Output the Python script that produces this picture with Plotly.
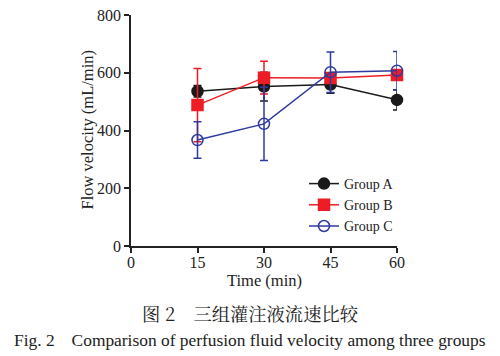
import plotly.graph_objects as go

time_min = [15, 30, 45, 60]
group_a = [536, 552, 559, 506]
group_a_err = [20, 50, 30, 35]
group_b = [488, 583, 582, 592]
group_b_err = [127, 57, 18, 18]
group_c = [367, 423, 602, 607]
group_c_err = [63, 127, 70, 67]

x_ticks = [0, 15, 30, 45, 60]
y_ticks = [0, 200, 400, 600, 800]

serif = "Liberation Serif, Times New Roman, serif"

series = [
    ("Group A", group_a, group_a_err, "#1a1a1a", "circle", "#1a1a1a"),
    ("Group B", group_b, group_b_err, "#ee1c25", "square", "#ee1c25"),
    ("Group C", group_c, group_c_err, "#2e3a9e", "circle-open", "#2e3a9e"),
]

fig = go.Figure()
for name, vals, errs, color, sym, mcol in series:
    fig.add_trace(go.Scatter(
        x=time_min, y=vals, name=name, mode="lines+markers",
        line=dict(color=color, width=1.5),
        marker=dict(symbol=sym, size=11, color=mcol,
                    line=dict(color=color, width=1.5)),
        error_y=dict(type="data", array=errs, visible=True,
                     color=color, thickness=1.5, width=4),
        cliponaxis=False,
    ))

# page body adds an 8px margin, so the figure is 492x348 placed at (8, 8)
W, H = 492, 348
L, R, T, B = 123, 103, 7, 110
pw, ph = W - L - R, H - T - B

fig.update_layout(
    width=W, height=H,
    margin=dict(l=L, r=R, t=T, b=B, autoexpand=False),
    paper_bgcolor="white", plot_bgcolor="white",
    font=dict(family=serif, size=16, color="#222"),
    showlegend=True,
    legend=dict(x=(296 - L) / pw, y=(238 - 160) / ph, xanchor="left", yanchor="top",
                bgcolor="rgba(0,0,0,0)", font=dict(size=14),
                itemwidth=30, tracegroupgap=0),
    xaxis=dict(range=[0, 60], tickvals=x_ticks, showgrid=False, zeroline=False,
               automargin=False, ticklabeloverflow="allow", ticklabelstandoff=-4,
               showline=True, linecolor="#222", linewidth=1.5,
               ticks="outside", ticklen=5, tickwidth=1.5, tickcolor="#222"),
    yaxis=dict(range=[0, 800], tickvals=y_ticks, showgrid=False, zeroline=False,
               automargin=False, ticklabeloverflow="allow",
               showline=True, linecolor="#222", linewidth=1.5,
               ticks="outside", ticklen=5, tickwidth=1.5, tickcolor="#222"),
)

# axis titles
fig.add_annotation(text="Time (min)", xref="paper", yref="paper", x=0.5, y=0,
                   yshift=-34, showarrow=False, xanchor="center", yanchor="middle",
                   font=dict(family=serif, size=16.5, color="#222"))
fig.add_annotation(text="Flow velocity (mL/min)", xref="paper", yref="paper", x=0, y=0.5,
                   xshift=-44, showarrow=False, xanchor="center", yanchor="middle",
                   textangle=-90, font=dict(family=serif, size=16.5, color="#222"))

cx = (242 - L) / pw
fig.add_annotation(text="图 2　三组灌注液流速比较", xref="paper", yref="paper",
                   x=cx, y=0, yshift=-67, showarrow=False, xanchor="center", yanchor="middle",
                   font=dict(family="Noto Serif CJK SC, Noto Sans CJK SC", size=18.3, color="#222"))
fig.add_annotation(text="Fig. 2　Comparison of perfusion fluid velocity among three groups",
                   xref="paper", yref="paper",
                   x=cx, y=0, yshift=-94, showarrow=False, xanchor="center", yanchor="middle",
                   font=dict(family=serif, size=17.4, color="#222"))

fig.write_html("out.html")
